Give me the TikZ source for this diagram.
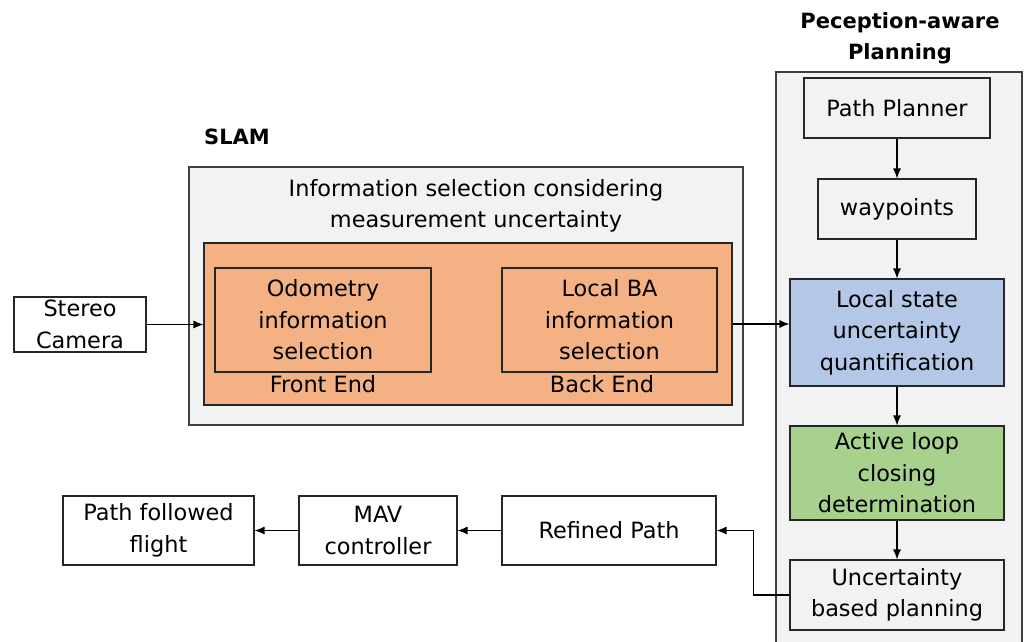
\documentclass[tikz,border=0pt]{standalone}
\usepackage{fontspec}
\setmainfont{DejaVu Sans}
\usepackage{tikz}
\usetikzlibrary{arrows.meta}
\tikzset{>=latex}
\definecolor{bggray}{HTML}{F2F2F2}
\definecolor{edgegray}{HTML}{404040}
\definecolor{slamorange}{HTML}{F4B183}
\definecolor{stateblue}{HTML}{B4C7E7}
\definecolor{loopgreen}{HTML}{A9D18E}
\tikzstyle{block}=[draw=black!85,line width=1.1pt,inner sep=0pt,align=center,font=\fontsize{22.4}{31.5}\selectfont]
\tikzstyle{panel}=[draw=edgegray,fill=bggray,line width=1.2pt,inner sep=0pt]
\tikzstyle{heading}=[inner sep=0pt,align=center,font=\fontsize{21}{31}\selectfont\bfseries]
\tikzstyle{flow}=[-{Latex[length=10pt,width=8pt]},line width=1.1pt]

\begin{document}
\begin{tikzpicture}[x=1pt,y=-1pt]
  \useasboundingbox (0,0) rectangle (1025,642);

  % planning column
  \node[heading] (plantitle) at (900,38) {Peception-aware\\Planning};
  \node[panel,minimum width=246pt,minimum height=588pt] (planbg) at (899,366) {};
  \node[block,fill=bggray,minimum width=186pt,minimum height=60pt] (planner) at (897,108) {Path Planner};
  \node[block,fill=bggray,minimum width=158pt,minimum height=60pt] (waypts) at (897,209) {waypoints};
  \node[block,fill=stateblue,minimum width=214pt,minimum height=107pt] (lstate) at (897,332.5) {Local state\\uncertainty\\quantification};
  \node[block,fill=loopgreen,minimum width=214pt,minimum height=94pt] (loopcl) at (897,473) {Active loop\\closing\\determination};
  \node[block,fill=bggray,minimum width=214pt,minimum height=70pt] (uplan) at (897,595) {Uncertainty\\based planning};

  % SLAM block
  \node[heading] (slamtitle) at (237,137) {SLAM};
  \node[panel,minimum width=554pt,minimum height=258pt] (slambg) at (466,296) {};
  \node[block,draw=none] (infosel) at (476,206) {Information selection considering\\measurement uncertainty};
  \node[block,fill=slamorange,minimum width=528pt,minimum height=162pt] (ends) at (468,324) {};
  \node[block,minimum width=216pt,minimum height=104pt] (odo) at (323,320) {Odometry\\information\\selection};
  \node[block,minimum width=215pt,minimum height=104pt] (lba) at (609.5,320) {Local BA\\information\\selection};
  \node[block,draw=none] (front) at (323,384) {Front End};
  \node[block,draw=none] (back) at (602,384) {Back End};

  % input and output chain
  \node[block,fill=white,minimum width=132pt,minimum height=55pt] (cam) at (80,324.5) {Stereo\\Camera};
  \node[block,fill=white,minimum width=214pt,minimum height=69pt] (refined) at (609,530.5) {Refined Path};
  \node[block,fill=white,minimum width=158pt,minimum height=69pt] (mav) at (378,530.5) {MAV\\controller};
  \node[block,fill=white,minimum width=191pt,minimum height=69pt] (flight) at (158.5,530.5) {Path followed\\flight};

  % connectors
  \draw[flow] (cam.east) -- (cam.east -| ends.west);
  \draw[flow] (ends.east) -- (ends.east -| lstate.west);
  \draw[flow] (planner) -- (waypts);
  \draw[flow] (waypts) -- (lstate);
  \draw[flow] (lstate) -- (loopcl);
  \draw[flow] (loopcl) -- (uplan);
  \draw[flow] (uplan.west) -- ++(-36,0) |- (refined.east);
  \draw[flow] (refined) -- (mav);
  \draw[flow] (mav) -- (flight);

\end{tikzpicture}
\end{document}
